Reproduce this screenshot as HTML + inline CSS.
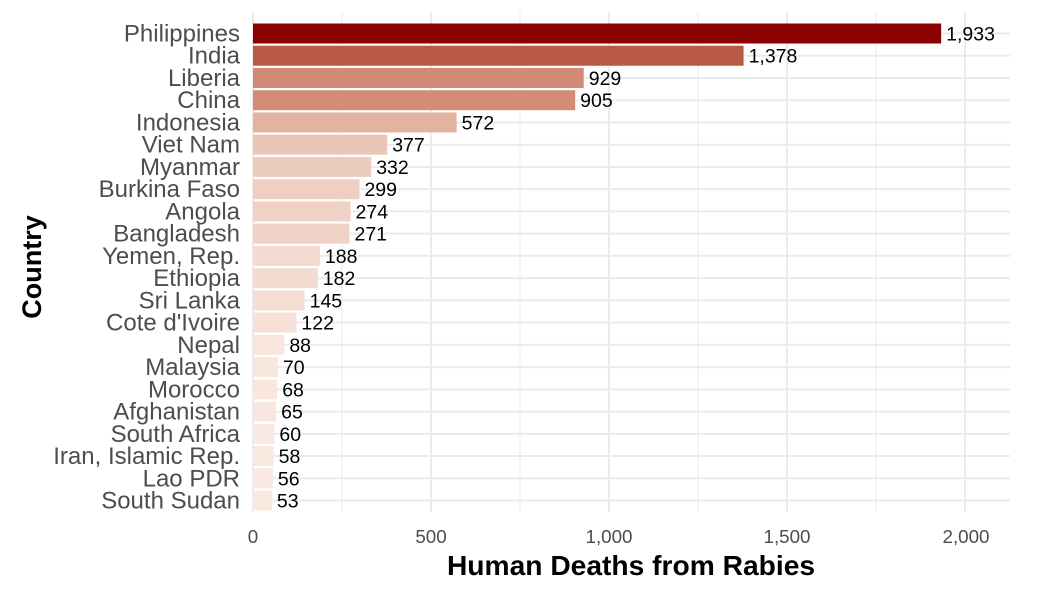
<!DOCTYPE html>
<html><head><style>body{margin:0;background:#fff}svg{display:block}</style></head><body>
<svg width="1050" height="600" xmlns="http://www.w3.org/2000/svg" font-family="Liberation Sans, sans-serif">
<g stroke="#ebebeb">
<g stroke-width="1">
<line x1="342" y1="12" x2="342" y2="512"/><line x1="520" y1="12" x2="520" y2="512"/><line x1="698" y1="12" x2="698" y2="512"/><line x1="876" y1="12" x2="876" y2="512"/>
</g>
<g stroke-width="2">
<line x1="253" y1="12" x2="253" y2="512"/><line x1="431" y1="12" x2="431" y2="512"/><line x1="609" y1="12" x2="609" y2="512"/><line x1="787" y1="12" x2="787" y2="512"/><line x1="965" y1="12" x2="965" y2="512"/>
</g>
<g id="hg" stroke-width="2"></g>
</g>
<g id="bars"></g>
<g font-size="18.8" fill="#4d4d4d" text-anchor="middle">
<text x="253" y="543">0</text><text x="431" y="543">500</text><text x="609" y="543">1,000</text><text x="787" y="543">1,500</text><text x="966" y="543">2,000</text>
</g>
<text x="631" y="575" font-size="28.2" font-weight="bold" text-anchor="middle">Human Deaths from Rabies</text>
<text transform="translate(41,267) rotate(-90)" font-size="27" font-weight="bold" text-anchor="middle">Country</text>
<script>
var d=[["Philippines",1933,"#8b0000"],["India",1378,"#b85a43"],["Liberia",929,"#d08a75"],["China",905,"#d28c78"],["Indonesia",572,"#e3b2a1"],["Viet Nam",377,"#eac6b8"],["Myanmar",332,"#ecccbe"],["Burkina Faso",299,"#eecfc2"],["Angola",274,"#efd2c5"],["Bangladesh",271,"#efd2c5"],["Yemen, Rep.",188,"#f3dbcf"],["Ethiopia",182,"#f3dbd0"],["Sri Lanka",145,"#f5dfd5"],["Cote d'Ivoire",122,"#f6e1d8"],["Nepal",88,"#f8e5dc"],["Malaysia",70,"#f9e7de"],["Morocco",68,"#f9e7de"],["Afghanistan",65,"#f9e7df"],["South Africa",60,"#f9e8df"],["Iran, Islamic Rep.",58,"#f9e8df"],["Lao PDR",56,"#fae8e0"],["South Sudan",53,"#fae9e0"]];
var ns="http://www.w3.org/2000/svg",b=document.getElementById("bars"),hg=document.getElementById("hg");
function el(t,a,p,tx){var e=document.createElementNS(ns,t);for(var k in a)e.setAttribute(k,a[k]);if(tx)e.textContent=tx;p.appendChild(e);return e;}
d.forEach(function(r,i){var cy=33.5+i*22.24,w=r[1]*0.356;
el("line",{x1:253,y1:cy,x2:1010,y2:cy},hg);
el("rect",{x:253,y:cy-10,width:w,height:20,fill:r[2]},b);
el("text",{x:240,y:cy+8,"font-size":24,fill:"#4d4d4d","text-anchor":"end"},b,r[0]);
el("text",{x:253+w+5,y:cy+7,"font-size":19.5,fill:"#000"},b,r[1].toLocaleString("en-US"));});
</script>
</svg>
</body></html>
